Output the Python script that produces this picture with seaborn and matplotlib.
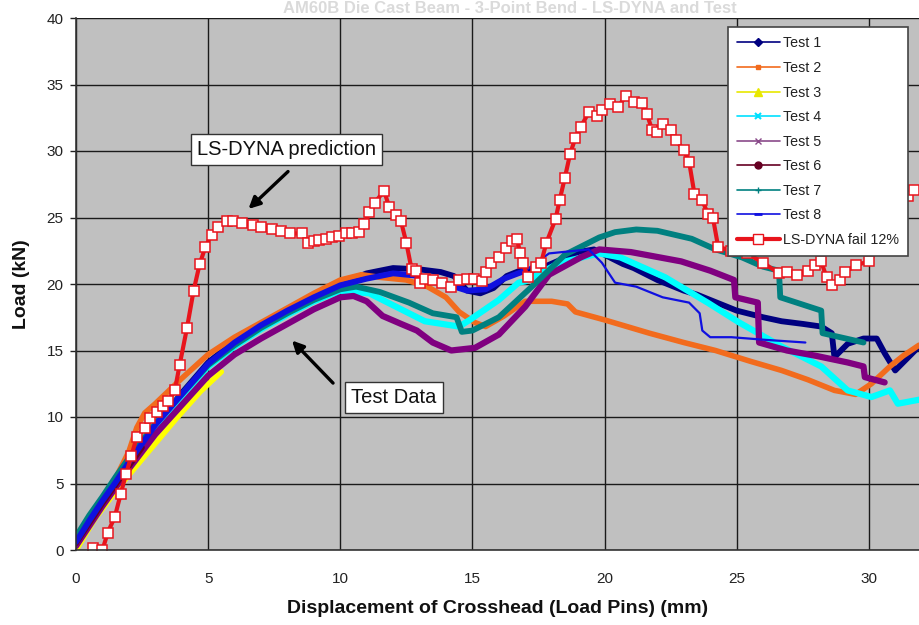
import numpy as np
import pandas as pd
import seaborn as sns
import matplotlib
matplotlib.use("Agg")
import matplotlib.pyplot as plt
from matplotlib.lines import Line2D

# ---------------- data: load vs. crosshead displacement ----------------
test1_x = [0.0, 0.5, 1.0, 1.5, 2.0, 3.0, 4.0, 5.0, 6.0, 7.0, 8.0, 9.0, 10.0, 11.0, 12.0, 13.0,
           13.8, 14.3, 14.8, 15.3, 15.8, 16.3, 16.8, 17.5, 18.2, 19.0, 19.6, 20.2, 20.7, 21.1,
           22.0, 23.0, 23.5, 24.0, 25.0, 26.0, 26.7, 27.5, 28.2, 28.6, 28.7, 29.2, 29.8, 30.3,
           30.6, 31.0, 31.4, 31.9]
test1_y = [0.6, 2.1, 3.6, 5.0, 6.5, 9.3, 11.8, 14.1, 15.7, 17.0, 18.1, 19.1, 20.0, 20.8, 21.2, 21.1,
           20.9, 20.6, 19.5, 19.3, 19.7, 20.6, 21.0, 21.1, 21.7, 22.4, 22.6, 22.0, 21.5, 21.2,
           20.3, 19.5, 19.2, 18.8, 18.0, 17.5, 17.2, 17.0, 16.8, 16.3, 14.5, 15.5, 15.9, 15.9,
           14.8, 13.5, 14.3, 15.3]

test2_x = [0.0, 1.0, 2.0, 2.3, 2.6, 3.0, 4.0, 5.0, 6.0, 7.0, 8.0, 9.0, 10.0, 10.8, 11.5, 12.5,
           13.3, 14.0, 14.5, 15.1, 15.5, 16.2, 17.0, 18.0, 18.6, 18.9, 20.0, 21.7, 23.0, 24.2,
           25.5, 26.7, 27.7, 28.7, 29.5, 30.1, 30.8, 31.3, 31.9]
test2_y = [0.3, 3.4, 7.4, 9.2, 10.3, 11.0, 12.9, 14.7, 16.0, 17.1, 18.2, 19.3, 20.3, 20.7, 20.5, 20.3,
           19.8, 19.0, 17.9, 17.1, 16.8, 17.6, 18.7, 18.7, 18.5, 17.9, 17.3, 16.3, 15.6, 15.0,
           14.2, 13.5, 12.8, 12.0, 11.7, 12.5, 13.8, 14.6, 15.4]

test3_x = [0.0, 0.7, 1.3, 1.9, 2.7, 3.8, 4.7, 5.5]
test3_y = [0.0, 2.3, 3.9, 5.4, 7.3, 9.9, 11.9, 13.4]

test4_x = [0.0, 0.5, 1.0, 1.5, 2.0, 3.0, 4.0, 5.0, 6.0, 7.0, 8.0, 9.0, 10.0, 11.1, 12.0, 13.2,
           14.5, 14.9, 16.0, 16.75, 17.0, 18.3, 19.8, 20.6, 22.3, 23.9, 25.1, 26.7, 28.2, 29.2,
           30.1, 30.8, 31.1, 31.9]
test4_y = [0.8, 2.4, 3.8, 5.3, 6.7, 9.3, 11.6, 13.8, 15.3, 16.6, 17.7, 18.7, 19.5, 19.3, 18.4, 17.2,
           16.8, 17.3, 18.8, 20.1, 20.2, 21.6, 22.3, 22.0, 20.5, 18.6, 17.1, 15.3, 13.8, 12.0,
           11.5, 12.0, 11.0, 11.3]

test5_x = [0.0, 0.5, 1.0, 1.5, 2.0, 2.5, 3.0, 3.5, 4.0, 5.0, 6.0, 7.0, 8.0, 9.0, 10.0, 10.5,
           11.0, 11.6, 12.3, 12.9, 13.5, 14.2, 15.1, 16.0, 17.0, 17.9, 19.1, 19.8, 21.0, 22.9,
           24.0, 24.9, 24.95, 25.8, 25.85, 26.9, 28.0, 29.2, 29.8, 29.85, 30.6]
test5_y = [0.3, 1.8, 3.3, 4.7, 6.1, 7.4, 8.7, 9.8, 10.9, 13.1, 14.7, 15.9, 17.0, 18.1, 19.0, 19.1,
           18.7, 17.6, 17.0, 16.5, 15.6, 15.0, 15.2, 16.2, 18.3, 20.7, 22.0, 22.6, 22.4, 21.7,
           21.0, 20.3, 19.0, 18.6, 15.6, 15.0, 14.6, 14.1, 13.8, 13.0, 12.6]

test6_x = [0.0, 0.5, 1.0, 1.5, 2.0, 2.5]
test6_y = [0.5, 2.0, 3.5, 4.9, 6.3, 7.7]

test7_x = [0.0, 0.5, 1.0, 1.5, 2.0, 3.0, 4.0, 5.0, 6.0, 7.0, 8.0, 9.0, 10.0, 10.6, 11.5, 12.6,
           13.5, 14.4, 14.6, 15.0, 16.0, 17.25, 18.5, 19.8, 20.4, 21.2, 22.0, 23.3, 24.2, 25.2,
           26.0, 26.6, 26.65, 28.2, 28.25, 29.8]
test7_y = [1.0, 2.6, 4.0, 5.5, 6.9, 9.5, 11.7, 13.9, 15.4, 16.7, 17.8, 18.8, 19.6, 19.8, 19.4, 18.6,
           17.8, 17.5, 16.4, 16.5, 17.5, 19.8, 22.2, 23.5, 23.9, 24.1, 24.0, 23.4, 22.6, 22.0,
           21.3, 21.0, 19.0, 18.0, 16.3, 15.6]

test8_x = [0.0, 0.5, 1.0, 1.5, 2.0, 3.0, 4.0, 5.0, 6.0, 7.0, 8.0, 9.0, 10.0, 11.0, 12.0, 13.0,
           14.0, 14.8, 15.5, 16.2, 17.0, 17.9, 19.4, 19.9, 20.4, 21.2, 22.2, 23.2, 23.6, 23.7,
           24.0, 24.8, 26.1, 27.6]
test8_y = [0.6, 2.2, 3.7, 5.1, 6.6, 9.4, 11.7, 14.0, 15.6, 16.9, 18.0, 19.0, 19.9, 20.4, 20.8, 20.6,
           20.0, 19.5, 19.6, 20.4, 21.0, 22.3, 22.6, 21.6, 20.1, 19.8, 19.0, 18.6, 17.8, 16.5,
           16.0, 16.0, 15.8, 15.6]

dyna_x = [0.65, 1.0, 1.2, 1.47, 1.69, 1.89, 2.1, 2.3, 2.6, 2.8, 3.05, 3.3, 3.5, 3.74, 3.92, 4.2,
          4.45, 4.68, 4.9, 5.13, 5.36, 5.7, 5.93, 6.3, 6.68, 7.0, 7.4, 7.75, 8.08, 8.57, 8.77,
          9.0, 9.2, 9.45, 9.7, 9.95, 10.2, 10.45, 10.7, 10.9, 11.1, 11.3, 11.66, 11.85, 12.1,
          12.3, 12.5, 12.7, 12.85, 13.0, 13.2, 13.5, 13.85, 14.2, 14.5, 14.8, 15.06, 15.36,
          15.5, 15.7, 16.0, 16.26, 16.5, 16.7, 16.8, 16.9, 17.1, 17.4, 17.6, 17.8, 18.15, 18.3,
          18.5, 18.7, 18.9, 19.1, 19.4, 19.7, 19.9, 20.2, 20.5, 20.8, 21.1, 21.4, 21.6, 21.8,
          22.0, 22.2, 22.5, 22.7, 23.0, 23.2, 23.4, 23.7, 23.9, 24.1, 24.3, 24.8, 25.4, 26.0,
          26.6, 26.9, 27.3, 27.7, 27.95, 28.2, 28.4, 28.6, 28.9, 29.1, 29.5, 30.0, 30.5, 31.0,
          31.5, 31.7]
dyna_y = [0.15, 0.0, 1.3, 2.5, 4.2, 5.7, 7.1, 8.5, 9.2, 9.9, 10.4, 10.8, 11.2, 12.0, 13.9, 16.7,
          19.5, 21.5, 22.8, 23.7, 24.3, 24.7, 24.7, 24.6, 24.4, 24.3, 24.1, 24.0, 23.8, 23.8, 23.1,
          23.2, 23.3, 23.4, 23.5, 23.6, 23.8, 23.8, 23.9, 24.5, 25.4, 26.1, 27.0, 25.8, 25.2,
          24.7, 23.1, 21.1, 21.0, 20.1, 20.4, 20.3, 20.1, 19.8, 20.3, 20.4, 20.4, 20.2,
          20.9, 21.6, 22.0, 22.7, 23.2, 23.4, 22.3, 21.6, 20.5, 21.3, 21.6, 23.1, 24.9, 26.3,
          28.0, 29.8, 31.0, 31.8, 32.9, 32.6, 33.1, 33.5, 33.3, 34.1, 33.7, 33.6, 32.8, 31.6,
          31.4, 32.0, 31.6, 30.8, 30.1, 29.2, 26.8, 26.3, 25.3, 25.0, 22.8, 22.5, 22.3, 21.6,
          20.8, 20.9, 20.7, 21.0, 21.4, 21.7, 20.5, 19.9, 20.3, 20.9, 21.4, 21.7, 23.0, 25.0,
          26.6, 27.1]

x_ticks = [0, 5, 10, 15, 20, 25, 30]
y_ticks = [0, 5, 10, 15, 20, 25, 30, 35, 40]

# ---------------- style ----------------
sns.set_style("ticks")
plt.rcParams["font.family"] = ["Liberation Sans", "DejaVu Sans"]

fig = plt.figure(figsize=(9.19, 6.25), dpi=100)
ax = fig.add_axes([76 / 919, 1 - 550 / 625, 1 - 76 / 919, 532 / 625])
ax.set_facecolor("#c0c0c0")
ax.set_axisbelow(True)
ax.grid(True, color="#1a1a1a", lw=1.0)

series = [
    ("Test 1", test1_x, test1_y, "#000080", 4.2),
    ("Test 2", test2_x, test2_y, "#f26b1d", 4.0),
    ("Test 3", test3_x, test3_y, "#ffff00", 4.0),
    ("Test 4", test4_x, test4_y, "#00ffff", 4.5),
    ("Test 5", test5_x, test5_y, "#800080", 4.5),
    ("Test 6", test6_x, test6_y, "#660022", 4.0),
    ("Test 7", test7_x, test7_y, "#008080", 4.2),
]
for name, xs, ys, col, lw in series:
    df = pd.DataFrame({"x": xs, "y": ys})
    sns.lineplot(data=df, x="x", y="y", ax=ax, color=col, lw=lw, sort=False,
                 estimator=None, solid_joinstyle="round", solid_capstyle="round")

# Test 8: heavy trace over the loading bundle, light trace afterwards
df8 = pd.DataFrame({"x": test8_x, "y": test8_y})
split = 21
sns.lineplot(data=df8.iloc[:split], x="x", y="y", ax=ax, color="#1010e0", lw=4.2,
             sort=False, estimator=None, solid_capstyle="round")
sns.lineplot(data=df8.iloc[split - 1:], x="x", y="y", ax=ax, color="#1010e0", lw=1.6,
             sort=False, estimator=None)

df_dyna = pd.DataFrame({"x": dyna_x, "y": dyna_y})
sns.lineplot(data=df_dyna, x="x", y="y", ax=ax, color="#e8141c", lw=3.0, sort=False,
             estimator=None, marker="s", markersize=7, markerfacecolor="white",
             markeredgecolor="#e8141c", markeredgewidth=1.1)

ax.set_xlim(0, 31.9)
ax.set_ylim(0, 40)
ax.set_xticks(x_ticks)
ax.set_yticks(y_ticks)
ax.tick_params(axis="both", labelsize=11, colors="#222222", length=4, width=1)
ax.tick_params(axis="x", length=0, pad=16)
ax.tick_params(axis="y", pad=5)
for s in ["top", "right"]:
    ax.spines[s].set_visible(False)
for s in ["left", "bottom"]:
    ax.spines[s].set_color("#333333")
    ax.spines[s].set_linewidth(1.2)

ax.set_xlabel("Displacement of Crosshead (Load Pins) (mm)", fontsize=14,
              fontweight="bold", color="#111111", labelpad=10)
ax.set_ylabel("Load (kN)", fontsize=14, fontweight="bold", color="#111111", labelpad=12)

# faint title across the top edge
fig.text(0.555, 1 - 13 / 625, "AM60B Die Cast Beam - 3-Point Bend - LS-DYNA and Test",
         ha="center", va="baseline", fontsize=12, fontweight="bold", color="#dadada")

# callouts
box = dict(boxstyle="square,pad=0.3", fc="white", ec="#333333", lw=1)
ax.text(7.98, 30.1, "LS-DYNA prediction", ha="center", va="center", fontsize=14.5,
        color="#111111", bbox=box)
ax.annotate("", xy=(6.45, 25.5), xytext=(8.1, 28.6),
            arrowprops=dict(arrowstyle="-|>", color="black", lw=2.4, mutation_scale=17))
ax.text(12.03, 11.5, "Test Data", ha="center", va="center", fontsize=14.5,
        color="#111111", bbox=box)
ax.annotate("", xy=(8.1, 15.9), xytext=(9.8, 12.4),
            arrowprops=dict(arrowstyle="-|>", color="black", lw=2.4, mutation_scale=17))

# legend
handles = [
    Line2D([], [], color="#000080", lw=1.2, marker="D", ms=4),
    Line2D([], [], color="#f26b1d", lw=1.2, marker="s", ms=3),
    Line2D([], [], color="#e8e800", lw=1.2, marker="^", ms=6),
    Line2D([], [], color="#00e0ff", lw=1.2, marker="x", ms=5, mew=1.5),
    Line2D([], [], color="#8a4a8a", lw=1.2, marker="x", ms=4),
    Line2D([], [], color="#660022", lw=1.2, marker="o", ms=5),
    Line2D([], [], color="#008080", lw=1.2, marker="+", ms=5),
    Line2D([], [], color="#1010e0", lw=1.2, marker="_", ms=6, mew=2),
    Line2D([], [], color="#e8141c", lw=3, marker="s", ms=7, mfc="white", mec="#e8141c"),
]
labels = ["Test 1", "Test 2", "Test 3", "Test 4", "Test 5", "Test 6", "Test 7", "Test 8",
          "LS-DYNA fail 12%"]
leg = ax.legend(handles, labels, loc="upper right", bbox_to_anchor=(0.987, 0.983),
                fontsize=10.3, frameon=True, fancybox=False, framealpha=1,
                edgecolor="#444444", handlelength=3.0, labelspacing=0.74,
                borderpad=0.65, handletextpad=0.2, borderaxespad=0)
leg.get_frame().set_linewidth(1.2)
for t in leg.get_texts():
    t.set_color("#222222")

fig.savefig("out.png", dpi=100)
